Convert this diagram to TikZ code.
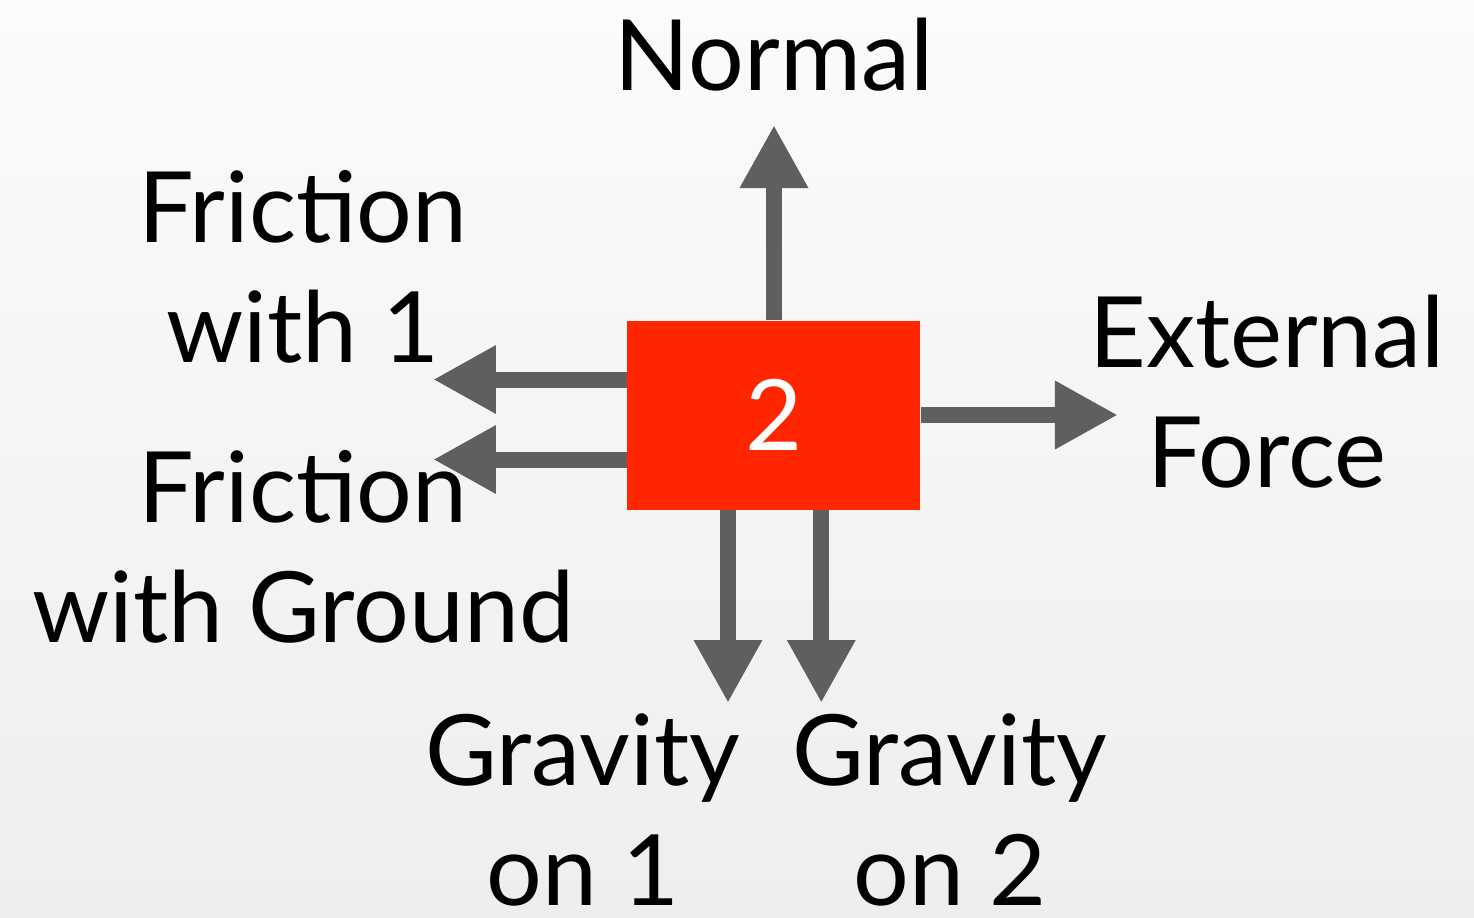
\documentclass[tikz,border=0pt]{standalone}
\usepackage{fontspec}
\setmainfont{Lato}
\usepackage{xcolor}
\usetikzlibrary{arrows.meta, positioning}

\definecolor{boxred}{HTML}{FF2600}
\definecolor{forcegray}{HTML}{5F5F5F}
\definecolor{bgtop}{HTML}{FBFBFB}
\definecolor{bgbottom}{HTML}{EEEEF0}

\begin{document}
\begin{tikzpicture}[block/.style={fill=boxred, minimum width=2.93cm, minimum height=1.89cm, inner sep=0pt, text=white, font=\fontsize{28}{34}\selectfont},
    force/.style={draw=forcegray, line width=0.16cm, -{Triangle[length=0.63cm, width=0.64cm]}},
    lbl/.style={align=center, anchor=base, inner sep=0pt, font=\fontsize{28}{34}\selectfont}]
      \shade[top color=bgtop, bottom color=bgbottom] (-7.74,4.15) rectangle (7.00,-5.02);
      \node[block] (box) at (0,0) {2};
      % tips of the forces
      \coordinate (n_tip) at (0,2.90);
      \coordinate (f1_tip) at (-3.41,0.355);
      \coordinate (fg_tip) at (-3.41,-0.445);
      \coordinate (ext_tip) at (3.44,0);
      \coordinate (g1_tip) at (-0.46,-2.88);
      \coordinate (g2_tip) at (0.473,-2.88);
      \draw[force] (box.north) -- (n_tip);
      \draw[force] (box.west |- f1_tip) -- (f1_tip);
      \draw[force] (box.west |- fg_tip) -- (fg_tip);
      \draw[force] (box.east) -- (ext_tip);
      \draw[force] (box.south -| g1_tip) -- (g1_tip);
      \draw[force] (box.south -| g2_tip) -- (g2_tip);
      % labels (base = last line)
      \node[lbl] (normal) at (0,3.25) {Normal};
      \node[lbl] (fric_1) at (-4.71,0.53) {Friction\\with 1};
      \node[lbl] (fric_g) at (-4.71,-2.27) {Friction\\with Ground};
      \node[lbl] (ext) at (4.93,-0.72) {External\\Force};
      \node[lbl] (grav_1) at (-1.91,-4.90) {Gravity\\on 1};
      \node[lbl] (grav_2) at (1.76,-4.90) {Gravity\\on 2};
    \end{tikzpicture}
\end{document}
